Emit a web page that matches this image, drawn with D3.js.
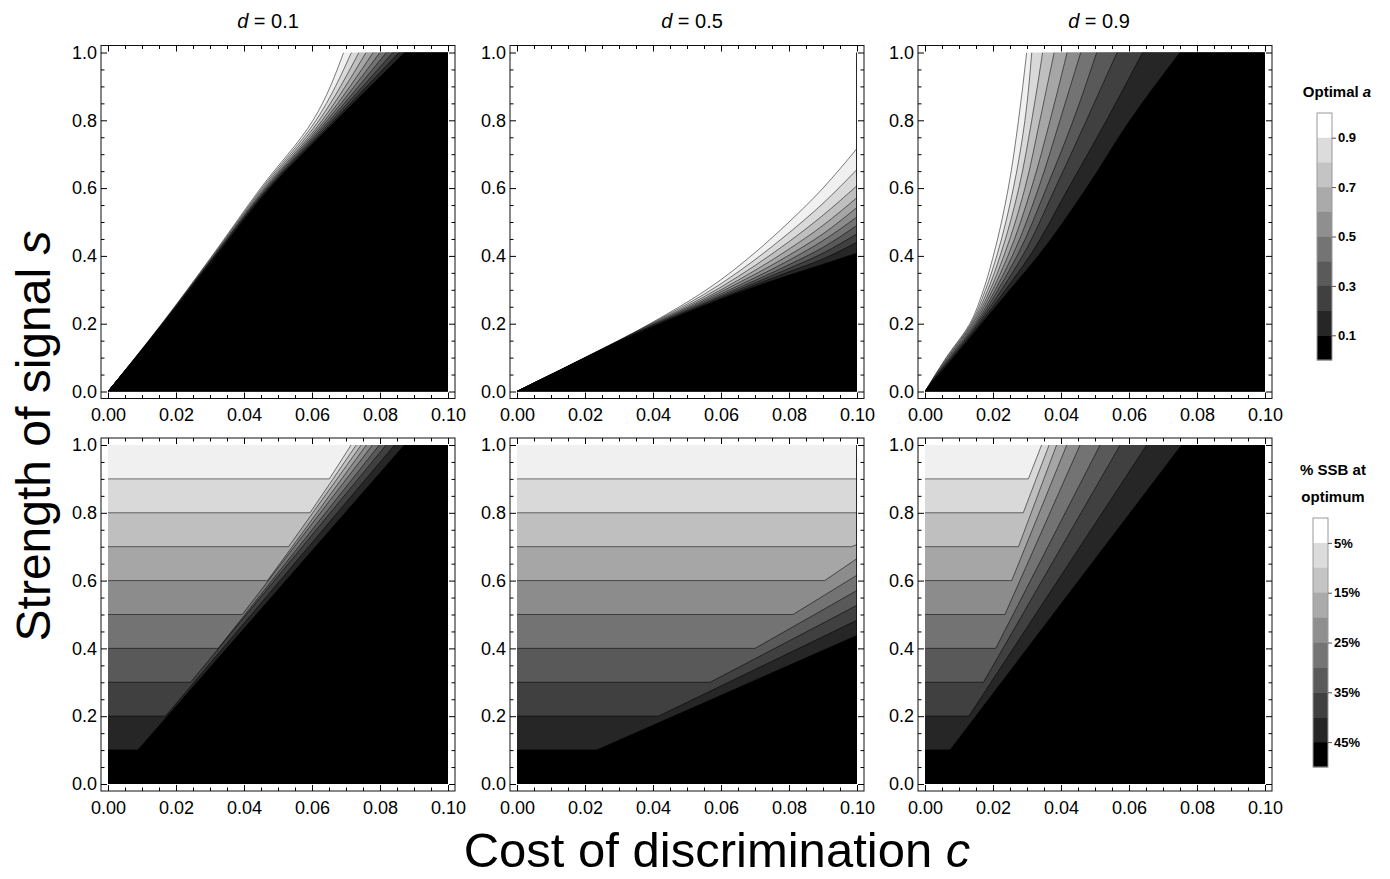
<!DOCTYPE html>
<html>
<head>
<meta charset="utf-8">
<script src="https://cdn.jsdelivr.net/npm/d3@7"></script>
<style>
    body { margin: 0; background: #fff; }
    svg { display: block; }
    text { font-family: "Liberation Sans", Arial, sans-serif; fill: #000; }
</style>
</head>
<body>
<svg id="chart" width="1390" height="879"></svg>
<script>
// ---- data ----
const cTicks = [0, 0.02, 0.04, 0.06, 0.08, 0.10];
const sTicks = [0, 0.2, 0.4, 0.6, 0.8, 1.0];
const dLabels = ["0.1", "0.5", "0.9"];
const aLegendTicks = [0.9, 0.7, 0.5, 0.3, 0.1];
const ssbLegendTicks = [5, 15, 25, 35, 45];

// optimal a, d = 0.1 : c of each contour at the s values below (white edge first, black edge last)
const a01S = [0, 0.2, 0.4, 0.6, 0.8, 1.0];
const a01C = [
    [0, 0.0158, 0.0306, 0.0449, 0.0603, 0.0693],
    [0, 0.0159, 0.0308, 0.0453, 0.0612, 0.0716],
    [0, 0.0160, 0.0310, 0.0457, 0.0621, 0.0738],
    [0, 0.0161, 0.0312, 0.0461, 0.0630, 0.0759],
    [0, 0.0161, 0.0313, 0.0464, 0.0638, 0.0780],
    [0, 0.0162, 0.0314, 0.0467, 0.0645, 0.0800],
    [0, 0.0163, 0.0316, 0.0470, 0.0652, 0.0819],
    [0, 0.0163, 0.0317, 0.0472, 0.0659, 0.0838],
    [0, 0.0164, 0.0318, 0.0475, 0.0666, 0.0856],
    [0, 0.0165, 0.0320, 0.0478, 0.0672, 0.0873]
];

// optimal a, d = 0.5 : s of each contour at the c values below
const a05C = [0, 0.02, 0.04, 0.06, 0.08, 0.09, 0.10];
const a05S = [
    [0, 0.100, 0.205, 0.330, 0.500, 0.600, 0.717],
    [0, 0.100, 0.203, 0.318, 0.468, 0.555, 0.655],
    [0, 0.100, 0.201, 0.308, 0.442, 0.520, 0.607],
    [0, 0.099, 0.199, 0.300, 0.420, 0.490, 0.572],
    [0, 0.099, 0.197, 0.294, 0.402, 0.465, 0.543],
    [0, 0.099, 0.196, 0.288, 0.387, 0.445, 0.515],
    [0, 0.099, 0.194, 0.283, 0.374, 0.425, 0.490],
    [0, 0.098, 0.193, 0.279, 0.363, 0.408, 0.465],
    [0, 0.098, 0.191, 0.275, 0.353, 0.391, 0.440],
    [0, 0.098, 0.190, 0.272, 0.343, 0.375, 0.408]
];

// optimal a, d = 0.9 : c of each contour at the s values below
const a09S = [0, 0.1, 0.2, 0.3, 0.4, 0.6, 0.8, 1.0];
const a09C = [
    [0, 0.0062, 0.0132, 0.0172, 0.0201, 0.0245, 0.0275, 0.0299],
    [0, 0.0064, 0.0135, 0.0178, 0.0211, 0.0260, 0.0294, 0.0314],
    [0, 0.0067, 0.0138, 0.0185, 0.0221, 0.0276, 0.0314, 0.0346],
    [0, 0.0069, 0.0141, 0.0192, 0.0232, 0.0294, 0.0338, 0.0380],
    [0, 0.0072, 0.0145, 0.0199, 0.0244, 0.0313, 0.0368, 0.0418],
    [0, 0.0074, 0.0149, 0.0207, 0.0257, 0.0334, 0.0397, 0.0458],
    [0, 0.0077, 0.0153, 0.0215, 0.0271, 0.0357, 0.0436, 0.0505],
    [0, 0.0079, 0.0157, 0.0225, 0.0287, 0.0383, 0.0475, 0.0565],
    [0, 0.0082, 0.0162, 0.0237, 0.0308, 0.0422, 0.0534, 0.0640],
    [0, 0.0085, 0.0167, 0.0250, 0.0333, 0.0475, 0.0603, 0.0750]
];

// % SSB at optimum: each contour runs flat at its level, bends at the knee, then leaves the plot at End
const ssbLevels = [0.9, 0.8, 0.7, 0.6, 0.5, 0.4, 0.3, 0.2, 0.1];
const ssb01Knee = [0.0651, 0.0594, 0.0531, 0.0469, 0.0395, 0.0324, 0.0243, 0.0169, 0.0088];
const ssb01End = [[0.0715, 1], [0.0730, 1], [0.0745, 1], [0.0760, 1], [0.0778, 1], [0.0798, 1], [0.0818, 1], [0.0843, 1], [0.0872, 1]];
const ssb05Knee = [0.1, 0.1, 0.0983, 0.0905, 0.0812, 0.0700, 0.0568, 0.0416, 0.0235];
const ssb05End = [[0.1, 0.9], [0.1, 0.8], [0.1, 0.706], [0.1, 0.665], [0.1, 0.616], [0.1, 0.571], [0.1, 0.527], [0.1, 0.483], [0.1, 0.438]];
const ssb09Knee = [0.0304, 0.0289, 0.0275, 0.0255, 0.0235, 0.0208, 0.0172, 0.0129, 0.0074];
const ssb09End = [[0.0343, 1], [0.0365, 1], [0.0387, 1], [0.0417, 1], [0.0456, 1], [0.0515, 1], [0.0574, 1], [0.0652, 1], [0.0755, 1]];

// ---- styles ----
const bandGreys = ["#f0f0f0", "#d9d9d9", "#bfbfbf", "#a6a6a6", "#8c8c8c", "#737373", "#595959", "#404040", "#262626", "#000000"];
const legendGreys = ["#ffffff", "#dcdcdc", "#c4c4c4", "#aaaaaa", "#8f8f8f", "#747474", "#5a5a5a", "#404040", "#262626", "#000000"];

const colX = [108, 517, 925];
const rowY = [52.5, 445];
const plotW = 340, plotH = 339, pad = 7;

const svg = d3.select("#chart");

// turn the tables into point lists [c, s]
const bySRows = (sArr, rows) => rows.map(r => sArr.map((s, i) => [r[i], s]));
const byCRows = (cArr, rows) => rows.map(r => cArr.map((c, i) => [c, r[i]]));
const ssbRows = (knees, ends) => ssbLevels.map((lv, i) => [[0, lv], [knees[i], lv], ends[i]]);

const panels = [
    {col: 0, row: 0, lines: bySRows(a01S, a01C), bg: "#ffffff", fills: bandGreys, curve: d3.curveMonotoneY},
    {col: 1, row: 0, lines: byCRows(a05C, a05S), bg: "#ffffff", fills: bandGreys, curve: d3.curveMonotoneX},
    {col: 2, row: 0, lines: bySRows(a09S, a09C), bg: "#ffffff", fills: bandGreys, curve: d3.curveMonotoneY},
    {col: 0, row: 1, lines: ssbRows(ssb01Knee, ssb01End), bg: bandGreys[0], fills: bandGreys.slice(1), curve: d3.curveLinear},
    {col: 1, row: 1, lines: ssbRows(ssb05Knee, ssb05End), bg: bandGreys[0], fills: bandGreys.slice(1), curve: d3.curveLinear},
    {col: 2, row: 1, lines: ssbRows(ssb09Knee, ssb09End), bg: bandGreys[0], fills: bandGreys.slice(1), curve: d3.curveLinear}
];

panels.forEach((p, pi) => {
    const x0 = colX[p.col], y0 = rowY[p.row];
    const x = d3.scaleLinear().domain([0, 0.1]).range([x0, x0 + plotW]);
    const y = d3.scaleLinear().domain([0, 1]).range([y0 + plotH, y0]);
    const g = svg.append("g");

    const clipId = "clip" + pi;
    svg.append("clipPath").attr("id", clipId)
        .append("rect").attr("x", x0).attr("y", y0).attr("width", plotW).attr("height", plotH);

    const area = g.append("g").attr("clip-path", `url(#${clipId})`);
    area.append("rect")
        .attr("x", x(0)).attr("y", y(1))
        .attr("width", x(0.1) - x(0)).attr("height", y(0) - y(1))
        .attr("fill", p.bg);

    const line = d3.line().x(d => x(d[0])).y(d => y(d[1])).curve(p.curve);
    const corners = [[0.1, 1], [0.1, 0], [0, 0]];

    // paint the region right / below each contour, lightest first
    area.selectAll("path.band")
        .data(p.lines)
        .enter().append("path")
        .attr("class", "band")
        .attr("d", d => line(d) + corners.map(q => `L${x(q[0])},${y(q[1])}`).join("") + "Z")
        .attr("fill", (d, i) => p.fills[i])
        .attr("stroke", (d, i) => p.fills[i])
        .attr("stroke-width", 0.5);

    area.selectAll("path.contour")
        .data(p.lines)
        .enter().append("path")
        .attr("class", "contour")
        .attr("d", line)
        .attr("fill", "none")
        .attr("stroke", "#000")
        .attr("stroke-opacity", 0.5)
        .attr("stroke-width", 1);

    // frame
    const fx0 = x0 - pad, fx1 = x0 + plotW + pad, fy0 = y0 - pad, fy1 = y0 + plotH + pad;
    g.append("rect")
        .attr("x", fx0).attr("y", fy0)
        .attr("width", fx1 - fx0).attr("height", fy1 - fy0)
        .attr("fill", "none").attr("stroke", "#111").attr("stroke-width", 1);

    const cMinor = d3.range(0, 0.1001, 0.005).filter((v, i) => i % 4 !== 0);
    const sMinor = d3.range(0, 1.001, 0.05).filter((v, i) => i % 4 !== 0);

    const addAxis = (axis, tx, ty, labelled) => {
        const a = g.append("g").attr("transform", `translate(${tx},${ty})`).call(axis);
        a.select(".domain").remove();
        a.selectAll("line").attr("stroke", "#000");
        a.selectAll("text").style("font-size", "18px").attr("fill", "#000");
        if (!labelled) a.selectAll("text").remove();
        return a;
    };

    // bottom / left, labelled
    addAxis(d3.axisBottom(x).tickValues(cTicks).tickSize(-6).tickPadding(10).tickFormat(d3.format(".2f")), 0, fy1, true);
    addAxis(d3.axisBottom(x).tickValues(cMinor).tickSize(-3.5).tickFormat(""), 0, fy1, false);
    addAxis(d3.axisLeft(y).tickValues(sTicks).tickSize(-6).tickPadding(4).tickFormat(d3.format(".1f")), fx0, 0, true);
    addAxis(d3.axisLeft(y).tickValues(sMinor).tickSize(-3.5).tickFormat(""), fx0, 0, false);
    // top / right, ticks only
    addAxis(d3.axisTop(x).tickValues(cTicks).tickSize(-6).tickFormat(""), 0, fy0, false);
    addAxis(d3.axisTop(x).tickValues(cMinor).tickSize(-3.5).tickFormat(""), 0, fy0, false);
    addAxis(d3.axisRight(y).tickValues(sTicks).tickSize(-6).tickFormat(""), fx1, 0, false);
    addAxis(d3.axisRight(y).tickValues(sMinor).tickSize(-3.5).tickFormat(""), fx1, 0, false);
});

// column titles
const titleX = [268, 692, 1099];
dLabels.forEach((d, i) => {
    const t = svg.append("text")
        .attr("x", titleX[i]).attr("y", 28)
        .attr("text-anchor", "middle")
        .style("font-size", "20px");
    t.append("tspan").style("font-style", "italic").text("d");
    t.append("tspan").text(" = " + d);
});

// axis titles
const yt = svg.append("text")
    .attr("transform", "translate(50,436) rotate(-90)")
    .attr("text-anchor", "middle")
    .style("font-size", "48px");
yt.append("tspan").text("Strength of signal ");
yt.append("tspan").style("font-style", "italic").text("s");

const xt = svg.append("text")
    .attr("x", 717).attr("y", 867)
    .attr("text-anchor", "middle")
    .style("font-size", "49px");
xt.append("tspan").text("Cost of discrimination ");
xt.append("tspan").style("font-style", "italic").text("c");

// legends
function drawLegend(titleLines, italicTail, bx, by, bh, domain, ticks, fmt) {
    const g = svg.append("g");
    titleLines.forEach((ln, i) => {
        const t = g.append("text")
            .attr("x", bx + 20).attr("y", by - 16 - (titleLines.length - 1 - i) * 27)
            .attr("text-anchor", "middle")
            .style("font-size", "15px").style("font-weight", "bold");
        t.append("tspan").text(ln);
        if (italicTail && i === titleLines.length - 1) t.append("tspan").style("font-style", "italic").text(italicTail);
    });
    const yl = d3.scaleLinear().domain(domain).range([by, by + bh]);
    const step = (domain[1] - domain[0]) / legendGreys.length;
    g.selectAll("rect.sw")
        .data(legendGreys)
        .enter().append("rect")
        .attr("class", "sw")
        .attr("x", bx).attr("width", 15)
        .attr("y", (d, i) => yl(domain[0] + i * step))
        .attr("height", (d, i) => yl(domain[0] + (i + 1) * step) - yl(domain[0] + i * step) + 0.3)
        .attr("fill", d => d);
    g.append("rect")
        .attr("x", bx).attr("y", by).attr("width", 15).attr("height", bh)
        .attr("fill", "none").attr("stroke", "#999").attr("stroke-width", 1);
    const ax = g.append("g").attr("transform", `translate(${bx + 15},0)`)
        .call(d3.axisRight(yl).tickValues(ticks).tickSize(4).tickPadding(2).tickFormat(fmt));
    ax.select(".domain").remove();
    ax.selectAll("line").attr("stroke", "#555");
    ax.selectAll("text").style("font-size", "13px").style("font-weight", "bold").attr("fill", "#000");
}

drawLegend(["Optimal "], "a", 1317, 113, 247, [1, 0], aLegendTicks, d3.format(".1f"));
drawLegend(["% SSB at", "optimum"], null, 1313, 518, 249, [0, 50], ssbLegendTicks, d => d + "%");
</script>
</body>
</html>
